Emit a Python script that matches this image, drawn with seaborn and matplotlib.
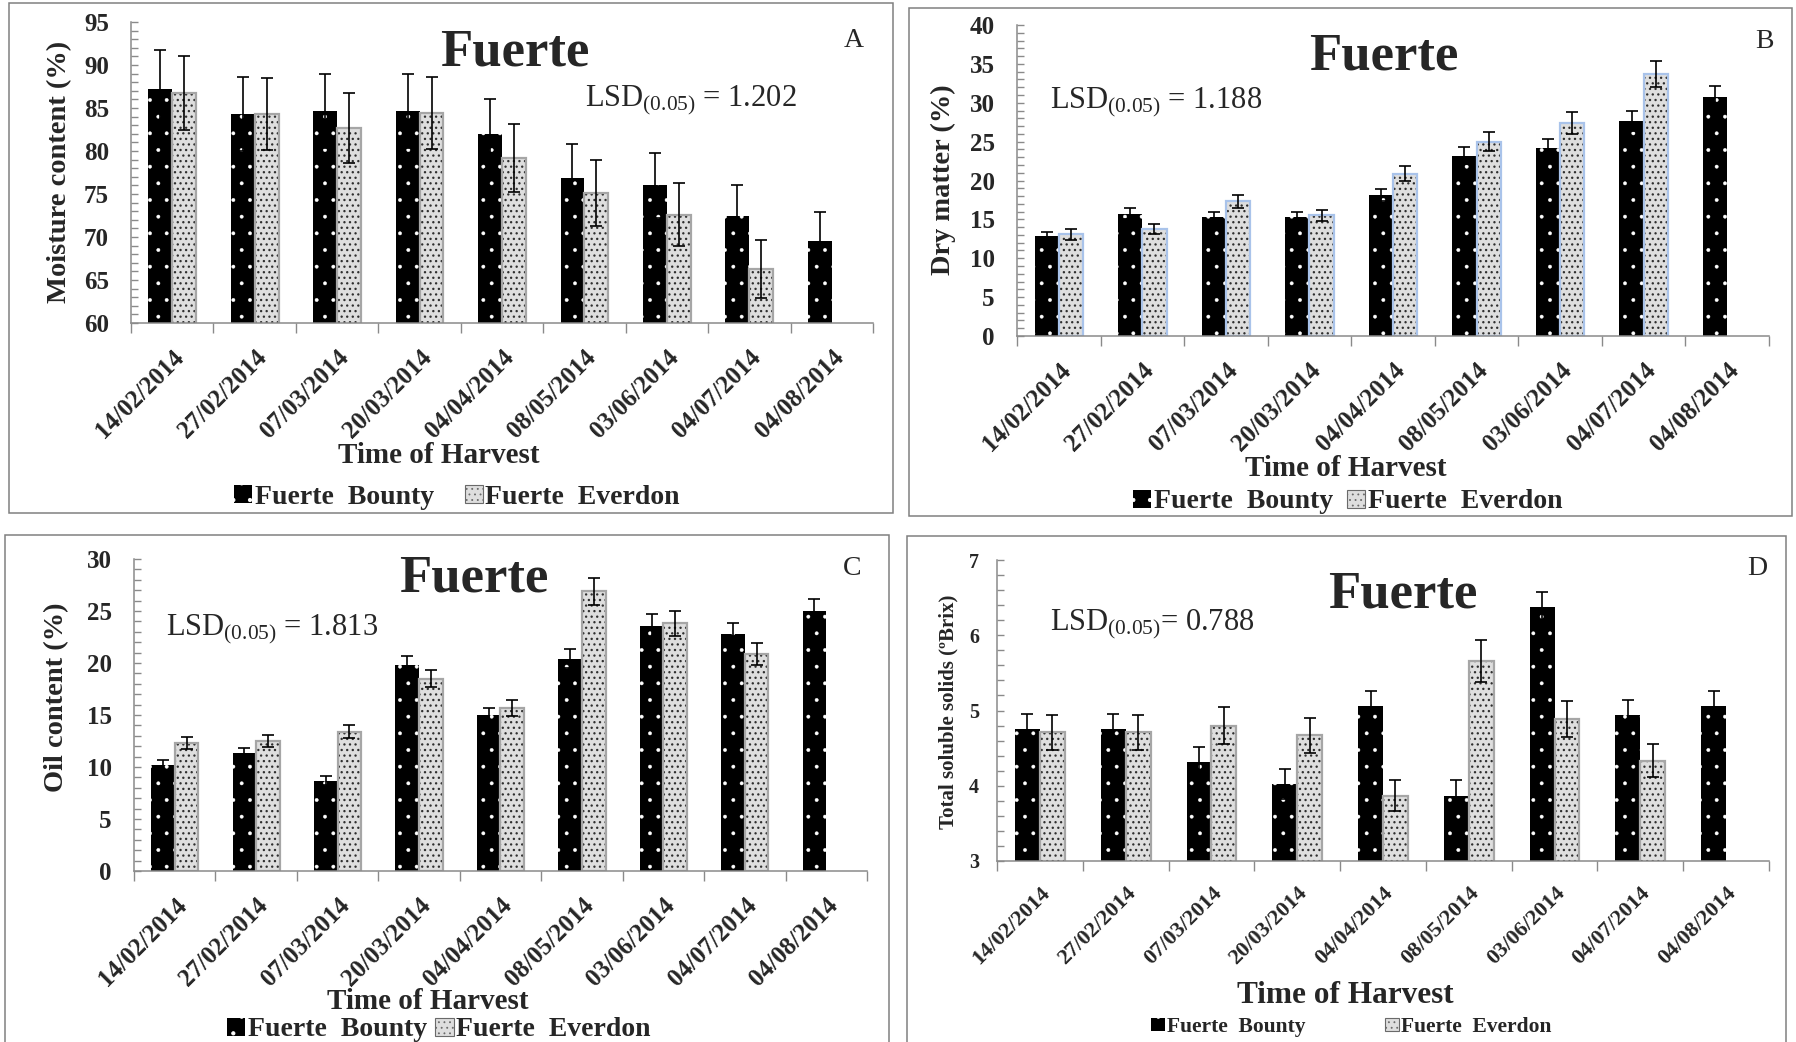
import numpy as np
import pandas as pd
import matplotlib
matplotlib.use("Agg")
import matplotlib.pyplot as plt
import seaborn as sns
from matplotlib.patches import Rectangle, Patch
from matplotlib.ticker import MultipleLocator

# ---------------- data ----------------
harvest_dates = ["14/02/2014", "27/02/2014", "07/03/2014", "20/03/2014", "04/04/2014",
                 "08/05/2014", "03/06/2014", "04/07/2014", "04/08/2014"]
cultivars = ["Fuerte  Bounty", "Fuerte  Everdon"]

moisture_bounty = [87.2, 84.3, 84.7, 84.7, 82.0, 76.9, 76.0, 72.4, 69.5]
moisture_bounty_err = [4.5, 4.3, 4.3, 4.3, 4.1, 3.9, 3.8, 3.6, 3.4]
moisture_everdon = [86.8, 84.3, 82.7, 84.4, 79.2, 75.1, 72.6, 66.3, np.nan]
moisture_everdon_err = [4.3, 4.2, 4.1, 4.2, 3.95, 3.8, 3.65, 3.35, np.nan]

drymatter_bounty = [12.8, 15.7, 15.3, 15.3, 18.1, 23.2, 24.2, 27.7, 30.7]
drymatter_bounty_err = [0.6, 0.7, 0.7, 0.7, 0.8, 1.1, 1.1, 1.3, 1.4]
drymatter_everdon = [13.1, 13.8, 17.3, 15.5, 20.9, 25.0, 27.4, 33.7, np.nan]
drymatter_everdon_err = [0.7, 0.65, 0.85, 0.75, 0.95, 1.2, 1.4, 1.7, np.nan]

oil_bounty = [10.2, 11.3, 8.7, 19.8, 15.0, 20.4, 23.6, 22.8, 25.0]
oil_bounty_err = [0.5, 0.5, 0.4, 0.9, 0.7, 0.9, 1.1, 1.0, 1.2]
oil_everdon = [12.3, 12.5, 13.4, 18.5, 15.7, 26.9, 23.8, 20.9, np.nan]
oil_everdon_err = [0.6, 0.6, 0.6, 0.85, 0.75, 1.3, 1.2, 1.05, np.nan]

tss_bounty = [4.76, 4.76, 4.32, 4.02, 5.06, 3.87, 6.38, 4.94, 5.06]
tss_bounty_err = [0.2, 0.2, 0.2, 0.2, 0.2, 0.21, 0.2, 0.2, 0.2]
tss_everdon = [4.71, 4.71, 4.80, 4.67, 3.87, 5.66, 4.89, 4.33, np.nan]
tss_everdon_err = [0.23, 0.23, 0.24, 0.23, 0.2, 0.28, 0.24, 0.22, np.nan]

titles = ["Fuerte", "Fuerte", "Fuerte", "Fuerte"]
panel_letters = ["A", "B", "C", "D"]
ylabels = ["Moisture content (%)", "Dry matter (%)", "Oil content (%)",
           "Total soluble solids (\u00baBrix)"]
lsd_texts = [r"LSD$_{\rm (0.05)}$ = 1.202", r"LSD$_{\rm (0.05)}$ = 1.188",
             r"LSD$_{\rm (0.05)}$ = 1.813", r"LSD$_{\rm (0.05)}$= 0.788"]
xlabel_text = "Time of Harvest"

# ---------------- style ----------------
sns.set_theme(style="white")
plt.rcParams["font.family"] = ["Liberation Serif", "DejaVu Serif"]
plt.rcParams["mathtext.fontset"] = "custom"
plt.rcParams["mathtext.rm"] = "Liberation Serif"
plt.rcParams["mathtext.it"] = "Liberation Serif:italic"
plt.rcParams["mathtext.bf"] = "Liberation Serif:bold"
plt.rcParams["hatch.linewidth"] = 0.6

W, H = 1796, 1042
AXIS_GRAY = "#8a8a8a"
FRAME_GRAY = "#808080"
BOUNTY_FACE = "#000000"
EVERDON_FACE = "#dedede"
EVERDON_DOTS = "#2e2e2e"


def fx(x):
    return x / W


def fy(y):
    return 1 - y / H


def hatch_lw(patch, lw):
    if hasattr(patch, "set_hatch_linewidth"):
        patch.set_hatch_linewidth(lw)


fig = plt.figure(figsize=(W / 100, H / 100), dpi=100)

panels = [
    dict(b=moisture_bounty, be=moisture_bounty_err, e=moisture_everdon, ee=moisture_everdon_err,
         ylim=(60, 95), major=5, minor=1, box=(131, 22, 873, 323), edge="#a6a6a6",
         frame=(9, 3, 893, 513), title=(515, 66), letter=(854, 47), lsd=(585, 106),
         ylab=(60, 172), ylab_fs=20.5, tick_fs=18, xtick_fs=18, xlab=(439, 463), xlab_fs=21,
         leg=(457, 497), leg_fs=20, colsp=1.1),
    dict(b=drymatter_bounty, be=drymatter_bounty_err, e=drymatter_everdon, ee=drymatter_everdon_err,
         ylim=(0, 40), major=5, minor=1, box=(1017, 25, 1769, 336), edge="#a9c3ea",
         frame=(909, 8, 1792, 516), title=(1384, 70), letter=(1764, 48), lsd=(1050, 108),
         ylab=(943, 180), ylab_fs=20.5, tick_fs=18, xtick_fs=18, xlab=(1346, 476), xlab_fs=21,
         leg=(1348, 502), leg_fs=20, colsp=0.5),
    dict(b=oil_bounty, be=oil_bounty_err, e=oil_everdon, ee=oil_everdon_err,
         ylim=(0, 30), major=5, minor=1, box=(134, 559, 867, 871), edge="#a6a6a6",
         frame=(5, 535, 889, 1046), title=(474, 592), letter=(852, 575), lsd=(166, 635),
         ylab=(57, 697), ylab_fs=20.5, tick_fs=18, xtick_fs=18, xlab=(428, 1009), xlab_fs=21,
         leg=(439, 1030), leg_fs=20, colsp=0.3),
    dict(b=tss_bounty, be=tss_bounty_err, e=tss_everdon, ee=tss_everdon_err,
         ylim=(3, 7), major=1, minor=0.2, box=(997, 560, 1769, 861), edge="#a6a6a6",
         frame=(907, 536, 1786, 1046), title=(1403, 608), letter=(1757, 575), lsd=(1050, 630),
         ylab=(948, 712), ylab_fs=15, tick_fs=14.5, xtick_fs=16, xlab=(1345, 1003), xlab_fs=22.5,
         leg=(1351, 1027), leg_fs=15.5, colsp=3.7),
]

for i, p in enumerate(panels):
    x0, y0, x1, y1 = p["box"]
    ax = fig.add_axes([fx(x0), fy(y1), (x1 - x0) / W, (y1 - y0) / H])

    df = pd.DataFrame({
        "Time of Harvest": harvest_dates * 2,
        "Cultivar": [cultivars[0]] * len(harvest_dates) + [cultivars[1]] * len(harvest_dates),
        "value": list(p["b"]) + list(p["e"]),
        "err": list(p["be"]) + list(p["ee"]),
    }).dropna(subset=["value"])

    sns.barplot(data=df, x="Time of Harvest", y="value", hue="Cultivar",
                order=harvest_dates, hue_order=cultivars,
                palette=[BOUNTY_FACE, EVERDON_FACE], saturation=1,
                width=0.58, errorbar=None, legend=False, ax=ax)

    bar_containers = list(ax.containers)
    for k, cont in enumerate(bar_containers):
        sub = df[df["Cultivar"] == cultivars[k]]
        xs, hs = [], []
        for patch in cont:
            if k == 0:
                patch.set_hatch(".")
                patch.set_edgecolor("white")
                patch.set_linewidth(0)
                hatch_lw(patch, 0.3)
            else:
                patch.set_hatch("...")
                patch.set_edgecolor(EVERDON_DOTS)
                patch.set_linewidth(0)
                hatch_lw(patch, 0.9)
                ax.add_patch(Rectangle(patch.get_xy(), patch.get_width(), patch.get_height(),
                                       fill=False, edgecolor=p["edge"], linewidth=1.6, zorder=1.5))
            xs.append(patch.get_x() + patch.get_width() / 2)
            hs.append(patch.get_height())
        ax.errorbar(xs, hs, yerr=sub["err"].to_numpy(), fmt="none", ecolor="black",
                    elinewidth=1.2, capsize=4.2, capthick=1.2, zorder=3)

    ax.set_ylim(*p["ylim"])
    ax.set_xlim(-0.5, len(harvest_dates) - 0.5)
    ax.yaxis.set_major_locator(MultipleLocator(p["major"]))
    ax.yaxis.set_minor_locator(MultipleLocator(p["minor"]))
    ax.set_xticks(np.arange(-0.5, len(harvest_dates), 1), minor=True)
    ax.set_xlabel("")
    ax.set_ylabel("")
    for side in ["top", "right"]:
        ax.spines[side].set_visible(False)
    for side in ["left", "bottom"]:
        ax.spines[side].set_color(AXIS_GRAY)
        ax.spines[side].set_linewidth(1.1)
    ax.tick_params(axis="y", which="both", direction="in", color=AXIS_GRAY, width=1.0,
                   left=True, pad=16 if i < 3 else 13)
    ax.tick_params(axis="y", which="major", length=5)
    ax.tick_params(axis="y", which="minor", length=5)
    ax.tick_params(axis="x", which="major", length=0, pad=16)
    ax.tick_params(axis="x", which="minor", length=7, direction="out", color=AXIS_GRAY,
                   width=1.0, bottom=True)
    for lab in ax.get_yticklabels():
        lab.set_fontweight("bold")
        lab.set_fontsize(p["tick_fs"])
    ax.set_xticks(range(len(harvest_dates)))
    ax.set_xticklabels(harvest_dates)
    for lab in ax.get_xticklabels():
        lab.set(rotation=45, ha="right", va="top", rotation_mode="anchor",
                fontweight="bold", fontsize=p["xtick_fs"])
    ax.set_facecolor("white")

    # texts
    fig.text(fx(p["title"][0]), fy(p["title"][1]), titles[i], fontsize=38, fontweight="bold",
             ha="center", va="baseline")
    fig.text(fx(p["letter"][0]), fy(p["letter"][1]), panel_letters[i], fontsize=20,
             ha="center", va="baseline")
    fig.text(fx(p["lsd"][0]), fy(p["lsd"][1]), lsd_texts[i], fontsize=22,
             ha="left", va="baseline")
    fig.text(fx(p["ylab"][0]), fy(p["ylab"][1]), ylabels[i], fontsize=p["ylab_fs"],
             fontweight="bold", rotation=90, ha="center", va="center")
    fig.text(fx(p["xlab"][0]), fy(p["xlab"][1]), xlabel_text, fontsize=p["xlab_fs"],
             fontweight="bold", ha="center", va="baseline")

    h_b = Patch(facecolor=BOUNTY_FACE, edgecolor="white", hatch=".", linewidth=0)
    h_e = Patch(facecolor=EVERDON_FACE, edgecolor="#6a6a6a", hatch="...", linewidth=0.8)
    hatch_lw(h_b, 0.3)
    hatch_lw(h_e, 0.9)
    fig.legend([h_b, h_e], cultivars, loc="center",
               bbox_to_anchor=(fx(p["leg"][0]), fy(p["leg"][1])),
               ncol=2, frameon=False, prop=dict(weight="bold", size=p["leg_fs"]),
               handlelength=0.65, handleheight=0.6, handletextpad=0.1,
               columnspacing=p["colsp"], borderpad=0, borderaxespad=0)

    fxa, fya, fxb, fyb = p["frame"]
    fig.add_artist(Rectangle((fx(fxa), fy(fyb)), (fxb - fxa) / W, (fyb - fya) / H,
                             transform=fig.transFigure, fill=False, edgecolor=FRAME_GRAY,
                             linewidth=1.1))

fig.savefig("out.png", dpi=100, facecolor="white")
